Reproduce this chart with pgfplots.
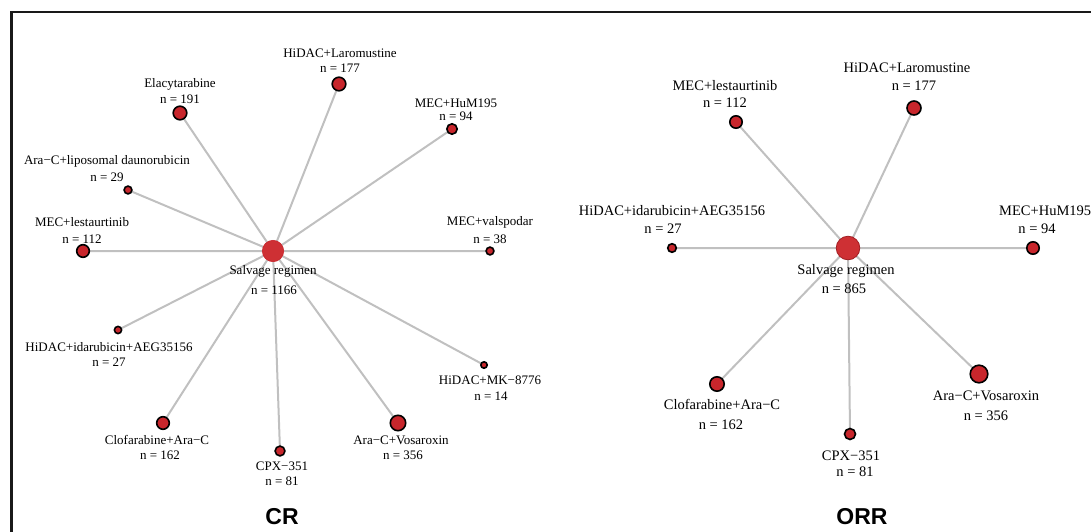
\documentclass[border=0pt]{standalone}
\usepackage{pgfplots}
\pgfplotsset{compat=1.18}
\usepackage{pgfplotstable}
\usepackage{fontspec}
\setmainfont{Liberation Serif}
\newfontfamily\titlefont{Liberation Sans}
\definecolor{nodered}{RGB}{200,38,44}
\definecolor{centerred}{RGB}{206,48,52}
\definecolor{edgegray}{RGB}{192,192,192}
\tikzset{lab/.style={font=\fontsize{13}{15}\selectfont, inner sep=0pt},
  labo/.style={font=\fontsize{14.5}{16}\selectfont, inner sep=0pt},
  ttl/.style={font=\titlefont\bfseries\fontsize{23}{26}\selectfont, inner sep=0pt}}

% CR network
\pgfplotstableread{
x y
273 251
339 84
nan nan
273 251
180 113
nan nan
273 251
452 129
nan nan
273 251
128 190
nan nan
273 251
83 251
nan nan
273 251
490 251
nan nan
273 251
118 330
nan nan
273 251
484 365
nan nan
273 251
163 423
nan nan
273 251
280 451
nan nan
273 251
398 423
}\credges
\pgfplotstableread{
x y r
339 84 6.8
180 113 6.8
452 129 5.2
128 190 3.9
83 251 6.3
490 251 3.9
118 330 3.6
484 365 3.2
163 423 6.3
280 451 4.9
398 423 7.7
}\crnodes
% ORR network
\pgfplotstableread{
x y
848 248
736 122
nan nan
848 248
914 108
nan nan
848 248
672 248
nan nan
848 248
1033 248
nan nan
848 248
717 384
nan nan
848 248
850 434
nan nan
848 248
979 374
}\orredges
\pgfplotstableread{
x y r
736 122 6.2
914 108 7.0
672 248 4.3
1033 248 6.2
717 384 7.2
850 434 5.5
979 374 8.8
}\orrnodes

\begin{document}
\begin{tikzpicture}
\begin{axis}[name=ax, width=1091pt, height=532pt, scale only axis,
  xmin=0, xmax=1091, ymin=0, ymax=532, y dir=reverse,
  hide axis, clip=false]
% frame
\draw[black!90, line width=2.7pt] (axis cs:11.3,532) -- (axis cs:11.3,12) -- (axis cs:1091,12);
% edges
\addplot[edgegray, line width=2pt, unbounded coords=jump, mark=none] table[x=x,y=y] {\credges};
\addplot[edgegray, line width=2pt, unbounded coords=jump, mark=none] table[x=x,y=y] {\orredges};
% nodes
\addplot[scatter, only marks, mark=*, line width=1.6pt,
  scatter/use mapped color={draw=black, fill=nodered},
  visualization depends on={\thisrow{r}\as\rr},
  scatter/@pre marker code/.append style={/tikz/mark size=\rr pt}]
  table[x=x,y=y] {\crnodes};
\addplot[scatter, only marks, mark=*, line width=1.6pt,
  scatter/use mapped color={draw=black, fill=nodered},
  visualization depends on={\thisrow{r}\as\rr},
  scatter/@pre marker code/.append style={/tikz/mark size=\rr pt}]
  table[x=x,y=y] {\orrnodes};
\addplot[only marks, mark=*, mark size=10.7pt, mark options={fill=centerred, draw=nodered, line width=0.6pt}] coordinates {(273,251)};
\addplot[only marks, mark=*, mark size=11.8pt, mark options={fill=centerred, draw=nodered!80!black, line width=0.8pt}] coordinates {(848,248)};
% CR labels
\node[lab] at (axis cs:340,53) {HiDAC+Laromustine};
\node[lab] at (axis cs:340,68) {n = 177};
\node[lab] at (axis cs:180,84) {Elacytarabine};
\node[lab] at (axis cs:180,99) {n = 191};
\node[lab] at (axis cs:456,103) {MEC+HuM195};
\node[lab] at (axis cs:456,116) {n = 94};
\node[lab] at (axis cs:107,161) {Ara−C+liposomal daunorubicin};
\node[lab] at (axis cs:107,177) {n = 29};
\node[lab] at (axis cs:82,222) {MEC+lestaurtinib};
\node[lab] at (axis cs:82,239) {n = 112};
\node[lab] at (axis cs:490,222) {MEC+valspodar};
\node[lab] at (axis cs:490,239) {n = 38};
\node[lab] at (axis cs:273,271) {Salvage regimen};
\node[lab] at (axis cs:274,290) {n = 1166};
\node[lab] at (axis cs:109,347) {HiDAC+idarubicin+AEG35156};
\node[lab] at (axis cs:109,362) {n = 27};
\node[lab] at (axis cs:490,380) {HiDAC+MK−8776};
\node[lab] at (axis cs:491,396) {n = 14};
\node[lab] at (axis cs:157,440) {Clofarabine+Ara−C};
\node[lab] at (axis cs:160,455) {n = 162};
\node[lab] at (axis cs:282,466) {CPX−351};
\node[lab] at (axis cs:282,481) {n = 81};
\node[lab] at (axis cs:401,440) {Ara−C+Vosaroxin};
\node[lab] at (axis cs:403,455) {n = 356};
\node[ttl] at (axis cs:282,517) {CR};
% ORR labels
\node[labo] at (axis cs:725,86) {MEC+lestaurtinib};
\node[labo] at (axis cs:725,103) {n = 112};
\node[labo] at (axis cs:907,68) {HiDAC+Laromustine};
\node[labo] at (axis cs:914,86) {n = 177};
\node[labo] at (axis cs:672,211) {HiDAC+idarubicin+AEG35156};
\node[labo] at (axis cs:663,229) {n = 27};
\node[labo,anchor=west] at (axis cs:999,211) {MEC+HuM195};
\node[labo] at (axis cs:1037,229) {n = 94};
\node[labo] at (axis cs:846,271) {Salvage regimen};
\node[labo] at (axis cs:844,289) {n = 865};
\node[labo] at (axis cs:722,404) {Clofarabine+Ara−C};
\node[labo] at (axis cs:721,425) {n = 162};
\node[labo] at (axis cs:851,456) {CPX−351};
\node[labo] at (axis cs:855,472) {n = 81};
\node[labo] at (axis cs:986,396) {Ara−C+Vosaroxin};
\node[labo] at (axis cs:986,416) {n = 356};
\node[ttl] at (axis cs:862,517) {ORR};
\end{axis}
\pgfresetboundingbox
\path[use as bounding box] (ax.south west) rectangle (ax.north east);
\end{tikzpicture}
\end{document}
